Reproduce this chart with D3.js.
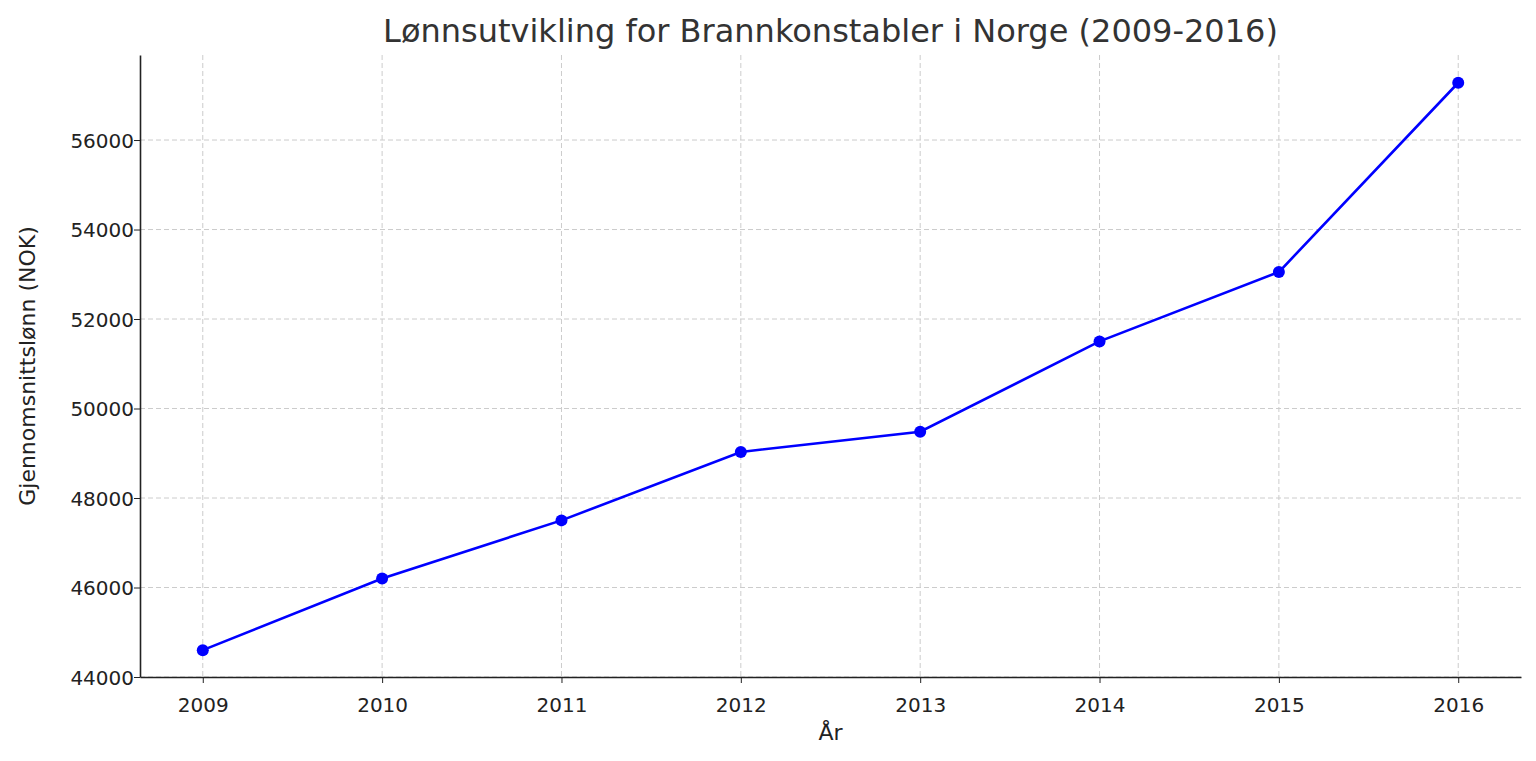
<!DOCTYPE html>
<html>
<head>
<meta charset="utf-8">
<script src="https://cdn.jsdelivr.net/npm/d3@7"></script>
<style>
  body { margin: 0; background: #fff; }
  text { font-family: "DejaVu Sans", sans-serif; }
</style>
</head>
<body>
<div id="chart"></div>
<script>
// values
var years = [2009, 2010, 2011, 2012, 2013, 2014, 2015, 2016];
var salary = [44600, 46200, 47500, 49030, 49480, 51500, 53050, 57280];
var yTicks = [44000, 46000, 48000, 50000, 52000, 54000, 56000];

(function() {
    var width = 1536, height = 761,
        left = 140, right = 1521, top = 55, bottom = 677;

    var svg = d3.select("#chart").append("svg")
        .attr("width", width).attr("height", height);

    var x = d3.scaleLinear().domain([2008.65, 2016.35]).range([left, right]);
    var y = d3.scaleLinear().domain([44000, 57900]).range([bottom, top]);

    // grid
    svg.append("g").selectAll("line").data(years).enter().append("line")
        .attr("x1", function(d) { return x(d); }).attr("x2", function(d) { return x(d); })
        .attr("y1", top).attr("y2", bottom)
        .attr("stroke", "#ccc").attr("stroke-dasharray", "5,3");
    svg.append("g").selectAll("line").data(yTicks).enter().append("line")
        .attr("x1", left).attr("x2", right)
        .attr("y1", function(d) { return y(d); }).attr("y2", function(d) { return y(d); })
        .attr("stroke", "#ccc").attr("stroke-dasharray", "5,3");

    // axes
    var xAxis = svg.append("g").attr("transform", "translate(0," + bottom + ")")
        .call(d3.axisBottom(x).tickValues(years).tickFormat(d3.format("d")).tickSize(6).tickSizeOuter(0));
    var yAxis = svg.append("g").attr("transform", "translate(" + left + ",0)")
        .call(d3.axisLeft(y).tickValues(yTicks).tickFormat(d3.format("d")).tickSize(6).tickSizeOuter(0));
    [xAxis, yAxis].forEach(function(a) {
        a.select(".domain").attr("stroke", "#222").attr("stroke-width", 1.6);
        a.selectAll(".tick line").attr("stroke", "#222");
        a.selectAll(".tick text").attr("font-size", 20).attr("fill", "#222")
            .attr("font-family", "DejaVu Sans");
    });
    xAxis.selectAll(".tick text").attr("dy", "1.3em");
    yAxis.selectAll(".tick text").attr("dy", "0.35em").attr("x", -6);

    // line + points
    var pts = years.map(function(d, i) { return [d, salary[i]]; });
    svg.append("path").datum(pts)
        .attr("fill", "none").attr("stroke", "#0000ff").attr("stroke-width", 2.6)
        .attr("d", d3.line().x(function(d) { return x(d[0]); }).y(function(d) { return y(d[1]); }));
    svg.append("g").selectAll("circle").data(pts).enter().append("circle")
        .attr("cx", function(d) { return x(d[0]); }).attr("cy", function(d) { return y(d[1]); })
        .attr("r", 6).attr("fill", "#0000ff");

    // labels
    svg.append("text").attr("x", (left + right) / 2).attr("y", 42)
        .attr("text-anchor", "middle").attr("font-size", 32).attr("fill", "#333")
        .text("Lønnsutvikling for Brannkonstabler i Norge (2009-2016)");
    svg.append("text").attr("x", (left + right) / 2).attr("y", 740)
        .attr("text-anchor", "middle").attr("font-size", 22).attr("fill", "#222")
        .text("År");
    svg.append("text").attr("transform", "translate(35," + ((top + bottom) / 2) + ") rotate(-90)")
        .attr("text-anchor", "middle").attr("font-size", 22).attr("fill", "#222")
        .text("Gjennomsnittslønn (NOK)");
})();
</script>
</body>
</html>
